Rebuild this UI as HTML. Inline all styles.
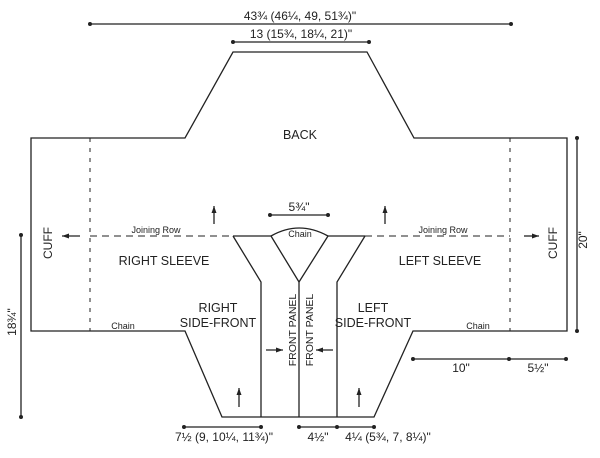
<!DOCTYPE html>
<html><head><meta charset="utf-8"><style>
html,body{margin:0;padding:0;background:#fff;}
svg{display:block;}
text{font-family:"Liberation Sans",sans-serif;fill:#222;}
</style></head><body>
<svg width="600" height="458" viewBox="0 0 600 458" xmlns="http://www.w3.org/2000/svg">
<defs>
<marker id="ah" markerWidth="8" markerHeight="8" refX="7" refY="4" orient="auto" markerUnits="userSpaceOnUse">
<path d="M0,1.5 L7,4 L0,6.5 Z" fill="#222"/></marker>
</defs>
<g stroke="#222" stroke-width="1.3" fill="none">
<path d="M31,331 L31,138 L185,138 L233,52 L367,52 L414,138 L567,138 L567,331 L413,331 L374,417 L222,417 L185,331 Z"/>
<line x1="90" y1="138" x2="90" y2="331" stroke-dasharray="4,6" stroke-width="1"/>
<line x1="510" y1="138" x2="510" y2="331" stroke-dasharray="4,6" stroke-width="1"/>
<line x1="90" y1="236" x2="233" y2="236" stroke-dasharray="7,5" stroke-width="1"/>
<line x1="365" y1="236" x2="510" y2="236" stroke-dasharray="7,5" stroke-width="1"/>
<path d="M233,236 L271,236 M328,236 L365,236"/>
<path d="M233,236 L261,282 L261,417"/>
<path d="M365,236 L337,282 L337,417"/>
<path d="M271,236 L299,282 L328,236"/>
<path d="M271,236 Q299,220 328,236"/>
<line x1="299" y1="282" x2="299" y2="417"/>
<line x1="90" y1="24" x2="511" y2="24"/>
<line x1="233" y1="42" x2="369" y2="42"/>
<line x1="270" y1="215" x2="328" y2="215"/>
<line x1="184" y1="427" x2="261" y2="427"/>
<line x1="299" y1="427" x2="374" y2="427"/>
<line x1="413" y1="359" x2="566" y2="359"/>
<line x1="21" y1="235" x2="21" y2="417"/>
<line x1="577" y1="138" x2="577" y2="331"/>
<line x1="214" y1="224" x2="214" y2="206" marker-end="url(#ah)"/>
<line x1="385" y1="224" x2="385" y2="206" marker-end="url(#ah)"/>
<line x1="80" y1="236" x2="62" y2="236" marker-end="url(#ah)"/>
<line x1="524" y1="236" x2="539" y2="236" marker-end="url(#ah)"/>
<line x1="266" y1="350" x2="283" y2="350" marker-end="url(#ah)"/>
<line x1="333" y1="350" x2="316" y2="350" marker-end="url(#ah)"/>
<line x1="239" y1="407" x2="239" y2="388" marker-end="url(#ah)"/>
<line x1="359" y1="407" x2="359" y2="388" marker-end="url(#ah)"/>
</g>
<g fill="#222">
<circle cx="90" cy="24" r="2"/><circle cx="511" cy="24" r="2"/>
<circle cx="233" cy="42" r="2"/><circle cx="369" cy="42" r="2"/>
<circle cx="270" cy="215" r="2"/><circle cx="328" cy="215" r="2"/>
<circle cx="184" cy="427" r="2"/><circle cx="261" cy="427" r="2"/>
<circle cx="299" cy="427" r="2"/><circle cx="337" cy="427" r="2"/><circle cx="374" cy="427" r="2"/>
<circle cx="413" cy="359" r="2"/><circle cx="509" cy="359" r="2"/><circle cx="566" cy="359" r="2"/>
<circle cx="21" cy="235" r="2"/><circle cx="21" cy="417" r="2"/>
<circle cx="577" cy="138" r="2"/><circle cx="577" cy="331" r="2"/>
</g>
<g font-size="12" text-anchor="middle">
<text x="300" y="20">43¾ (46¼, 49, 51¾)"</text>
<text x="301" y="38">13 (15¾, 18¼, 21)"</text>
<text x="299" y="211">5¾"</text>
<text x="224" y="441">7½ (9, 10¼, 11¾)"</text>
<text x="318" y="441">4½"</text>
<text x="388" y="441">4¼ (5¾, 7, 8¼)"</text>
<text x="461" y="372">10"</text>
<text x="538" y="372">5½"</text>
<text font-size="12.5" x="300" y="139">BACK</text>
<text font-size="12.5" x="164" y="265">RIGHT SLEEVE</text>
<text font-size="12.5" x="440" y="265">LEFT SLEEVE</text>
<text font-size="12.5" x="218" y="312">RIGHT</text>
<text font-size="12.5" x="218" y="327">SIDE-FRONT</text>
<text font-size="12.5" x="373" y="312">LEFT</text>
<text font-size="12.5" x="373" y="327">SIDE-FRONT</text>
<text font-size="9" x="156" y="233">Joining Row</text>
<text font-size="9" x="443" y="233">Joining Row</text>
<text font-size="9" x="123" y="329">Chain</text>
<text font-size="9" x="478" y="329">Chain</text>
<text font-size="9" x="300" y="237">Chain</text>
<text font-size="12" transform="translate(52,243) rotate(-90)">CUFF</text>
<text font-size="12" transform="translate(557,243) rotate(-90)">CUFF</text>
<text font-size="12" transform="translate(587,240) rotate(-90)">20"</text>
<text font-size="12" transform="translate(16,322) rotate(-90)">18¾"</text>
<text font-size="10.5" transform="translate(296,330) rotate(-90)">FRONT PANEL</text>
<text font-size="10.5" transform="translate(313,330) rotate(-90)">FRONT PANEL</text>
</g>
</svg>
</body></html>
